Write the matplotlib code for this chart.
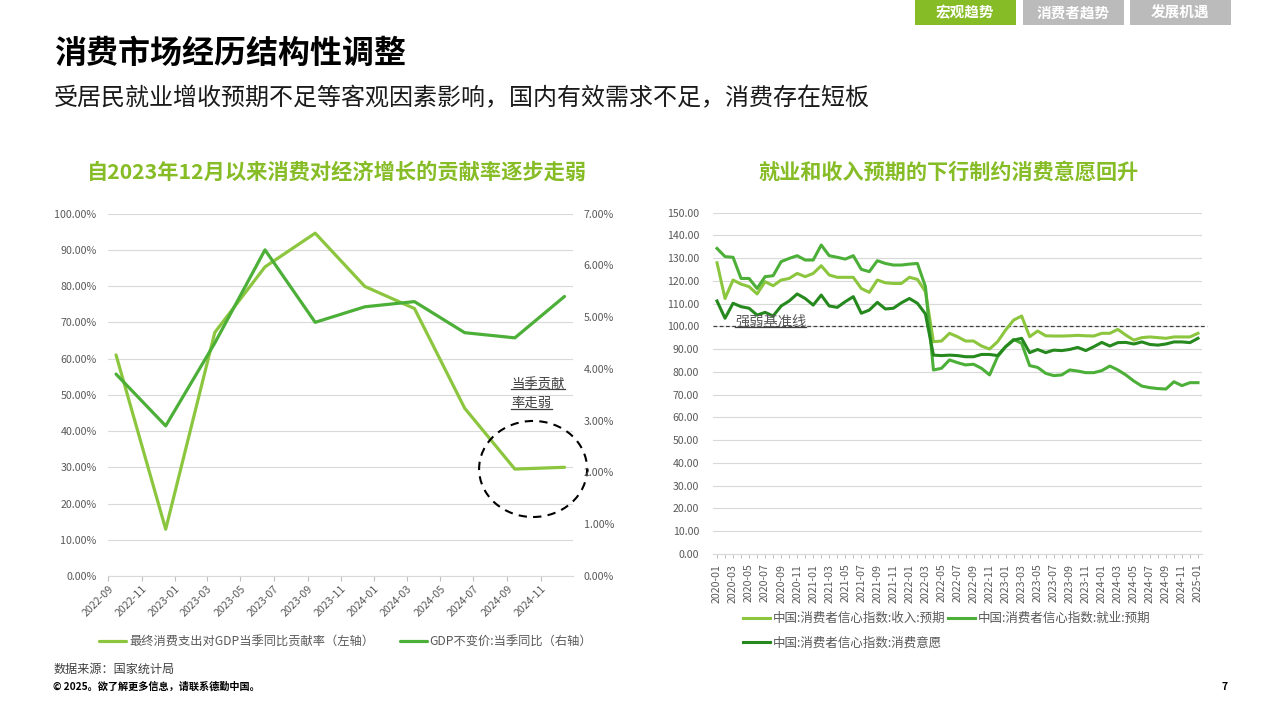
import matplotlib
matplotlib.use("Agg")
import matplotlib.pyplot as plt
from matplotlib.ticker import FuncFormatter
from matplotlib.patches import Rectangle, Ellipse
from matplotlib.lines import Line2D
import numpy as np
import pandas as pd

plt.rcParams['font.family'] = ['Noto Sans CJK SC', 'DejaVu Sans']
plt.rcParams['axes.unicode_minus'] = False

W, H = 1280, 720

# left chart: quarterly data
quarters = ['2022-09', '2022-12', '2023-03', '2023-06', '2023-09',
            '2023-12', '2024-03', '2024-06', '2024-09', '2024-12']
consume_share = [61.0, 12.9, 67.2, 85.3, 94.6, 79.9, 73.8, 46.3, 29.5, 30.0]  # %, left axis
gdp_yoy = [3.9, 2.9, 4.5, 6.3, 4.9, 5.2, 5.3, 4.7, 4.6, 5.4]  # %, right axis
left_labels = ['最终消费支出对GDP当季同比贡献率（左轴）', 'GDP不变价:当季同比（右轴）']

# right chart: monthly consumer confidence sub-indexes
months = pd.period_range('2020-01', '2025-01', freq='M').strftime('%Y-%m').tolist()
income_exp = [128.0, 112.3, 120.4, 118.6, 117.5, 114.3, 119.7, 117.9, 120.4, 121.1,
              123.3, 121.9, 123.3, 126.7, 122.6, 121.6, 121.6, 121.6, 116.7, 115.0,
              120.4, 119.2, 118.9, 118.9, 121.6, 120.7, 115.3, 93.3, 93.6, 97.0,
              95.5, 93.6, 93.6, 91.4, 90.1, 93.3, 98.4, 102.8, 104.6, 95.5,
              98.0, 95.9, 95.8, 95.8, 95.9, 96.1, 95.9, 95.8, 97.0, 97.0,
              98.7, 96.2, 94.0, 95.1, 95.4, 95.1, 94.8, 95.4, 95.4, 95.4,
              97.0]
job_exp = [134.3, 130.7, 130.4, 121.1, 121.1, 116.7, 121.9, 122.3, 128.5, 129.9,
           131.1, 129.2, 129.2, 135.8, 131.1, 130.4, 129.6, 131.1, 125.1, 124.1,
           128.9, 127.7, 127.0, 127.0, 127.4, 127.7, 117.5, 80.9, 81.6, 85.3,
           84.1, 83.1, 83.4, 81.6, 78.7, 86.7, 91.1, 94.3, 92.6, 82.8,
           82.0, 79.4, 78.4, 78.7, 80.9, 80.4, 79.7, 79.7, 80.6, 82.6,
           80.9, 78.7, 76.0, 73.8, 73.1, 72.7, 72.5, 75.7, 74.0, 75.3,
           75.3]
consume_will = [111.2, 103.6, 110.2, 108.7, 108.0, 105.0, 106.2, 104.6, 109.0, 111.2,
                114.3, 112.3, 109.4, 113.8, 109.0, 108.4, 110.9, 113.1, 105.8, 107.2,
                110.6, 107.7, 108.0, 110.4, 112.3, 110.2, 105.5, 87.4, 87.2, 87.4,
                87.2, 86.7, 86.7, 87.7, 87.7, 87.2, 91.1, 94.0, 94.8, 88.5,
                89.9, 88.5, 89.6, 89.4, 89.9, 90.8, 89.4, 91.1, 93.0, 91.4,
                92.9, 93.0, 92.3, 93.2, 92.1, 91.8, 92.3, 93.2, 93.2, 92.9,
                94.8]
right_labels = ['中国:消费者信心指数:收入:预期', '中国:消费者信心指数:就业:预期',
                '中国:消费者信心指数:消费意愿']

c_light = '#8CC63F'
c_mid = '#4CAF38'
c_dark = '#26891E'
c_title = '#86BC25'
c_tick = '#595959'
c_grid = '#d9d9d9'

fig = plt.figure(figsize=(12.8, 7.2), dpi=100)


def underline(t, color='#404040', lw=0.9):
    fig.canvas.draw()
    bb = t.get_window_extent().transformed(fig.transFigure.inverted())
    fig.add_artist(Line2D([bb.x0, bb.x1], [bb.y0 + 0.002, bb.y0 + 0.002],
                          transform=fig.transFigure, color=color, lw=lw))


# ---------------- left chart ----------------
ax1 = fig.add_axes([108.4 / W, 1 - 576 / H, 464.3 / W, 362.4 / H])
ax1r = ax1.twinx()
xq = pd.to_datetime([q + '-15' for q in quarters])
l1, = ax1.plot(xq, np.array(consume_share) / 100, color=c_light, lw=2.3,
               solid_joinstyle='round', solid_capstyle='round')
l2, = ax1r.plot(xq, np.array(gdp_yoy) / 100, color=c_mid, lw=2.3,
                solid_joinstyle='round', solid_capstyle='round')
ax1.set_ylim(0, 1)
ax1.set_yticks(np.arange(0, 1.001, 0.1))
ax1r.set_ylim(0, 0.07)
ax1r.set_yticks(np.arange(0, 0.0701, 0.01))
pct = FuncFormatter(lambda v, _: f'{v * 100:.2f}%')
ax1.yaxis.set_major_formatter(pct)
ax1r.yaxis.set_major_formatter(pct)
ax1.set_xlim(pd.Timestamp('2022-09-01'), pd.Timestamp('2024-12-30'))
tick_dates = pd.date_range('2022-09-01', '2024-11-01', freq='2MS')
ax1.set_xticks(tick_dates, [d.strftime('%Y-%m') for d in tick_dates])
plt.setp(ax1.get_xticklabels(), rotation=45, ha='right', va='top', rotation_mode='anchor')
ax1.grid(axis='y', color=c_grid, lw=0.8)
ax1.set_axisbelow(True)
for s in ['top', 'left', 'right']:
    ax1.spines[s].set_visible(False)
for s in ['top', 'left', 'right', 'bottom']:
    ax1r.spines[s].set_visible(False)
ax1.spines['bottom'].set_color(c_grid)
ax1.tick_params(axis='y', length=0, pad=8.5, labelsize=7.7, labelcolor=c_tick)
ax1r.tick_params(axis='y', length=0, pad=8, labelsize=7.7, labelcolor=c_tick)
ax1.tick_params(axis='x', length=3.5, width=0.8, color='#bfbfbf', pad=2,
                labelsize=7.7, labelcolor=c_tick)

ax1r.add_patch(Ellipse((0.9147, 0.2953), 0.2326, 0.265, transform=ax1r.transAxes,
                       fill=False, ec='black', lw=1.5, ls=(0, (4, 3)), clip_on=False))
t_a = ax1r.text(0.868, 0.530, '当季贡献', transform=ax1r.transAxes, fontsize=9.6,
                color='#404040', ha='left', va='center')
t_b = ax1r.text(0.868, 0.477, '率走弱', transform=ax1r.transAxes, fontsize=9.6,
                color='#404040', ha='left', va='center')

fig.legend([l1, l2], left_labels, loc='center left', bbox_to_anchor=(99 / W, 1 - 641.7 / H),
           ncol=2, frameon=False, fontsize=8.8, labelcolor=c_tick, handlelength=2.2,
           handletextpad=0.25, columnspacing=2.1, borderpad=0, borderaxespad=0)

# ---------------- right chart ----------------
ax2 = fig.add_axes([713 / W, 1 - 554 / H, 489 / W, 341.3 / H])
xm = np.arange(len(months))
la, = ax2.plot(xm, income_exp, color=c_light, lw=2.2, solid_joinstyle='round')
lb, = ax2.plot(xm, job_exp, color=c_mid, lw=2.2, solid_joinstyle='round')
lc, = ax2.plot(xm, consume_will, color=c_dark, lw=2.2, solid_joinstyle='round')
ax2.set_xlim(-0.5, len(months) - 0.5)
ax2.set_ylim(0, 150)
ax2.set_yticks(np.arange(0, 151, 10))
ax2.yaxis.set_major_formatter(FuncFormatter(lambda v, _: f'{v:.2f}'))
ax2.set_xticks(xm[::2], months[::2], rotation=90)
ax2.set_xticks(xm, minor=True)
ax2.grid(axis='y', color=c_grid, lw=0.8)
ax2.set_axisbelow(True)
for s in ['top', 'left', 'right']:
    ax2.spines[s].set_visible(False)
ax2.spines['bottom'].set_color(c_grid)
ax2.tick_params(axis='y', length=0, pad=10, labelsize=7.6, labelcolor=c_tick)
ax2.tick_params(axis='x', which='both', length=3, width=0.7, color='#bfbfbf', pad=4,
                labelsize=7.6, labelcolor=c_tick)
ax2.axhline(100, xmin=0, xmax=1.0096, color='#404040', lw=0.9, ls=(0, (3, 2)),
            clip_on=False, zorder=1.5)
t_c = ax2.text(2.24, 102.0, '强弱基准线', fontsize=10.3, color='#595959', ha='left', va='center')

fig.legend([la, lc, lb], [right_labels[0], right_labels[2], right_labels[1]],
           loc='upper left', bbox_to_anchor=(742.8 / W, 1 - 612 / H), ncol=2,
           frameon=False, fontsize=9.0, labelcolor=c_tick, handlelength=2.15,
           handletextpad=0.25, columnspacing=0.2, labelspacing=0.9, borderpad=0,
           borderaxespad=0)

# ---------------- page text ----------------
fig.text(54 / W, 1 - 54 / H, '消费市场经历结构性调整', fontsize=23, weight='bold',
         color='black', va='center')
fig.text(54 / W, 1 - 98 / H, '受居民就业增收预期不足等客观因素影响，国内有效需求不足，消费存在短板',
         fontsize=17.3, color='#1a1a1a', va='center')
fig.text(336.6 / W, 1 - 172 / H, '自2023年12月以来消费对经济增长的贡献率逐步走弱',
         fontsize=15.3, weight='bold', color=c_title, ha='center', va='center')
fig.text(949 / W, 1 - 172 / H, '就业和收入预期的下行制约消费意愿回升',
         fontsize=15.2, weight='bold', color=c_title, ha='center', va='center')
fig.text(53.4 / W, 1 - 669 / H, '数据来源：国家统计局', fontsize=8.7, color='#404040', va='center')
fig.text(53.4 / W, 1 - 687 / H, '© 2025。欲了解更多信息，请联系德勤中国。', fontsize=7.3,
         weight='bold', color='black', va='center')
fig.text(1225 / W, 1 - 687 / H, '7', fontsize=7.5, weight='bold', color='black',
         ha='center', va='center')

# navigation tabs
tabs = ['宏观趋势', '消费者趋势', '发展机遇']
tab_x = [915, 1023.3, 1130]
tab_colors = [c_title, '#BBBBBB', '#BBBBBB']
for name, x0, col in zip(tabs, tab_x, tab_colors):
    fig.add_artist(Rectangle((x0 / W, 1 - 25 / H), 100.5 / W, 25 / H,
                             transform=fig.transFigure, color=col, lw=0))
    fig.text((x0 + 50.25) / W, 1 - 12.5 / H, name, fontsize=10.5, weight='bold',
             color='white', ha='center', va='center')

for t in (t_a, t_b, t_c):
    underline(t)

fig.savefig('out.png', dpi=100)
